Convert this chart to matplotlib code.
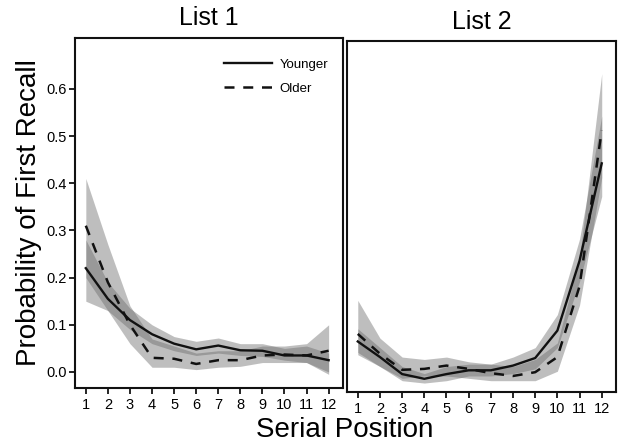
import matplotlib
matplotlib.use('Agg')
import matplotlib.pyplot as plt
import numpy as np

plt.rcParams['font.family'] = ['Liberation Sans', 'DejaVu Sans']

# Serial positions
positions = list(range(1, 13))

# List 1 - probability of first recall
list1_young = [0.22, 0.155, 0.11, 0.08, 0.06, 0.048, 0.056, 0.046, 0.045, 0.035, 0.035, 0.025]
list1_young_lo = [0.15, 0.13, 0.09, 0.06, 0.045, 0.035, 0.04, 0.035, 0.033, 0.025, 0.02, 0.0]
list1_young_hi = [0.28, 0.19, 0.135, 0.10, 0.075, 0.065, 0.072, 0.06, 0.06, 0.05, 0.055, 0.04]
list1_old = [0.31, 0.19, 0.10, 0.03, 0.028, 0.017, 0.025, 0.025, 0.035, 0.037, 0.035, 0.045]
list1_old_lo = [0.20, 0.13, 0.06, 0.01, 0.01, 0.005, 0.01, 0.012, 0.02, 0.02, 0.02, -0.005]
list1_old_hi = [0.41, 0.27, 0.14, 0.07, 0.055, 0.04, 0.045, 0.045, 0.055, 0.055, 0.06, 0.10]

# List 2 - probability of first recall
list2_young = [0.073, 0.04, 0.004, -0.006, 0.004, 0.012, 0.012, 0.022, 0.038, 0.096, 0.244, 0.45]
list2_young_lo = [0.045, 0.02, -0.01, -0.015, -0.01, 0.0, 0.0, 0.005, 0.015, 0.06, 0.20, 0.38]
list2_young_hi = [0.10, 0.06, 0.02, 0.005, 0.02, 0.025, 0.025, 0.04, 0.06, 0.13, 0.29, 0.55]
list2_old = [0.089, 0.047, 0.013, 0.015, 0.022, 0.015, 0.006, 0.0, 0.008, 0.04, 0.19, 0.52]
list2_old_lo = [0.05, 0.02, -0.005, 0.0, 0.0, -0.005, -0.01, -0.01, -0.01, 0.01, 0.15, 0.42]
list2_old_hi = [0.16, 0.08, 0.04, 0.035, 0.04, 0.03, 0.025, 0.02, 0.035, 0.07, 0.25, 0.64]

fig = plt.figure(figsize=(6.18, 4.46), dpi=100)
ax1 = fig.add_axes([0.121, 0.130, 0.434, 0.785])
ax2 = fig.add_axes([0.561, 0.121, 0.436, 0.786])

panels = [
    (ax1, 'List 1', list1_young, list1_young_lo, list1_young_hi, list1_old, list1_old_lo, list1_old_hi),
    (ax2, 'List 2', list2_young, list2_young_lo, list2_young_hi, list2_old, list2_old_lo, list2_old_hi),
]

for ax, title, yng, ylo, yhi, old, olo, ohi in panels:
    # confidence bands, overlap gets darker
    ax.fill_between(positions, ylo, yhi, color='0.4', alpha=0.42, linewidth=0)
    ax.fill_between(positions, olo, ohi, color='0.4', alpha=0.42, linewidth=0)
    ax.plot(positions, yng, color='#111111', linewidth=1.7, label='Younger')
    ax.plot(positions, old, color='#111111', linewidth=1.8, linestyle=(0, (4, 3.5)), label='Older')
    ax.set_xlim(0.5, 12.65)
    ax.set_ylim(-0.034, 0.708)
    ax.set_xticks(positions)
    ax.tick_params(axis='x', direction='out', length=4, width=1.2, labelsize=10.5, pad=3)
    ax.set_title(title, fontsize=18, pad=9)
    for s in ax.spines.values():
        s.set_linewidth(1.5)
        s.set_color('#111111')

ax1.set_yticks([0.0, 0.1, 0.2, 0.3, 0.4, 0.5, 0.6])
ax1.set_yticklabels(['0.0', '0.1', '0.2', '0.3', '0.4', '0.5', '0.6'])
ax1.tick_params(axis='y', direction='out', length=4, width=1.2, labelsize=10.5, pad=2)
ax2.set_yticks([])

ax1.set_ylabel('Probability of First Recall', fontsize=20, labelpad=3)
ax1.legend(loc='upper right', bbox_to_anchor=(0.99, 0.975), frameon=False, fontsize=9.5,
           handlelength=3.6, labelspacing=0.9, handletextpad=0.6)

fig.text(0.558, 0.035, 'Serial Position', fontsize=20, ha='center', va='center')

fig.savefig('out.png', dpi=100)
